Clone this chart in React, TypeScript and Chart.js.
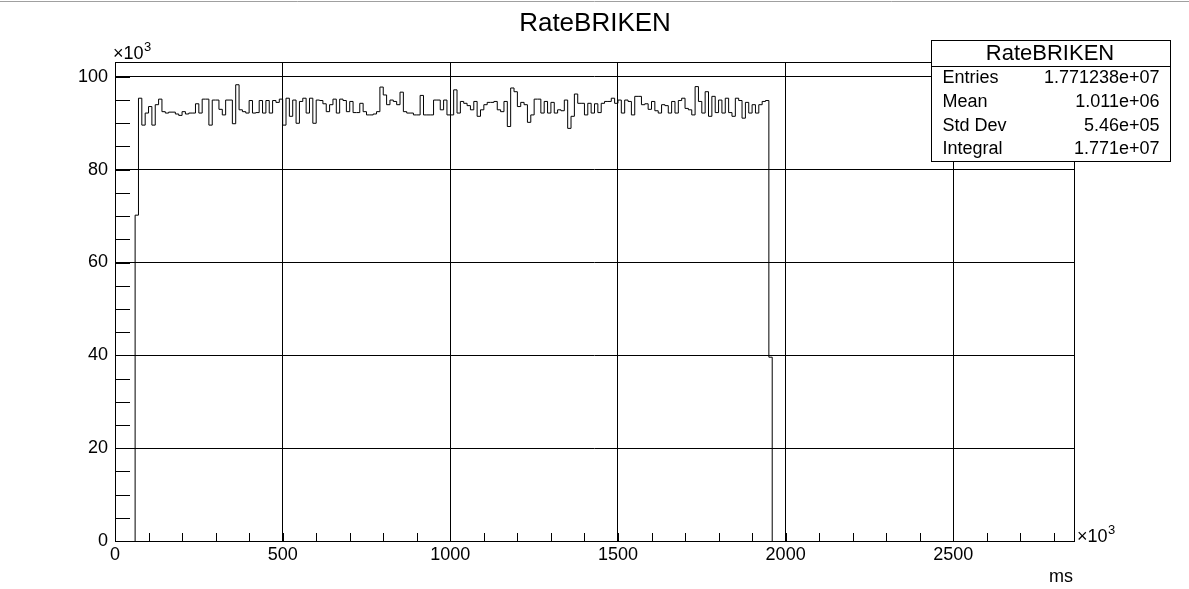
import { useEffect, useRef } from "react";
import { Chart, registerables } from "chart.js";

Chart.register(...registerables);

const FONT = '"Liberation Sans", Arial, Helvetica, sans-serif';

const histTitle = "RateBRIKEN";
const xAxisTitle = "ms";
const binLow = 60; // ×10^3 ms
const binWidth = 10; // ×10^3 ms
// counts per bin, ×10^3
const counts = [
  70.2,
  95.4, 89.6, 92.2, 93.6, 89.6, 94.0, 95.2, 92.5, 92.2, 92.4,
  92.4, 92.0, 91.7, 92.5, 92.0, 92.2, 92.2, 94.2, 92.2, 95.2,
  95.2, 89.6, 95.0, 95.0, 93.0, 91.8, 95.0, 95.0, 89.9, 98.3,
  92.9, 92.5, 92.2, 94.9, 92.2, 92.3, 94.9, 92.2, 94.9, 92.2,
  94.9, 94.5, 95.2, 89.6, 95.4, 91.5, 95.0, 90.0, 94.7, 95.4,
  92.2, 95.4, 90.0, 95.0, 94.9, 94.2, 92.5, 94.0, 95.2, 92.2,
  95.2, 94.9,
  92.5, 94.7, 92.3, 92.3, 94.3, 92.5, 91.8, 91.8, 92.0, 92.5,
  97.8, 96.1, 94.0, 95.0, 94.7, 94.0, 96.7, 92.5, 92.2, 92.2,
  91.8, 91.8, 96.0, 91.8, 91.8, 91.8, 95.0, 95.0, 92.9, 95.0,
  91.8, 91.8, 97.2, 92.2, 94.7, 94.3, 93.8, 92.9, 94.7, 91.5,
  92.9, 94.0, 94.5, 94.5, 94.7, 92.9, 92.5, 94.7, 89.3, 97.6,
  96.8, 93.6, 94.5, 94.0, 90.2, 91.8, 95.2, 95.2, 92.2, 94.7,
  92.2, 94.5, 92.2, 92.9,
  92.7, 95.0, 88.9, 91.5, 96.3, 94.3, 94.3, 91.8, 94.3, 92.2,
  94.2, 92.3, 94.3, 94.7, 94.7, 95.4, 94.3, 95.0, 92.2, 95.0,
  94.7, 91.8, 95.8, 95.8, 94.0, 94.2, 93.0, 94.7, 92.7, 92.2,
  94.0, 93.8, 92.2, 94.7, 92.2, 94.9, 95.4, 93.2, 92.9, 91.8,
  97.9, 94.7, 92.2, 96.8, 91.5, 95.8, 92.3, 95.0, 92.2, 95.4,
  92.3, 91.5, 95.4, 94.9, 91.1, 94.5, 92.2, 94.0, 92.2, 94.0,
  94.7, 94.9,
  39.6,
];

const xMin = 0;
const xMax = 2860;
const yMin = 0;
const yMax = 103.2;
const xTickValues = [0, 500, 1000, 1500, 2000, 2500];
const yTickValues = [0, 20, 40, 60, 80, 100];
const xMinor = 100;
const yMinor = 5;

const statsLabels = ["Entries", "Mean", "Std Dev", "Integral"];
const statsValues = ["1.771238e+07", "1.011e+06", "5.46e+05", "1.771e+07"];

const CW = 1189;
const CH = 589;
const AREA = { left: 115, right: 1074, top: 62, bottom: 541 };

function drawTimes10(ctx: CanvasRenderingContext2D, x: number, baseline: number) {
  ctx.font = `18px ${FONT}`;
  ctx.textAlign = "left";
  ctx.textBaseline = "alphabetic";
  ctx.fillText("\u00d710", x, baseline);
  const w = ctx.measureText("\u00d710").width;
  ctx.font = `13px ${FONT}`;
  ctx.fillText("3", x + w + 0.5, baseline - 8);
}

const rootPlugin = {
  id: "rootDecor",
  afterDraw(chart: any) {
    const ctx: CanvasRenderingContext2D = chart.ctx;
    const { left, right, top, bottom } = chart.chartArea;
    const xs = chart.scales.x;
    const ys = chart.scales.y;
    ctx.save();
    ctx.strokeStyle = "#000";
    ctx.fillStyle = "#000";
    ctx.lineWidth = 1;

    // frame
    ctx.strokeRect(Math.round(left) + 0.5, Math.round(top) + 0.5, Math.round(right - left), Math.round(bottom - top));

    // minor ticks
    ctx.beginPath();
    for (let v = yMin; v <= yMax; v += yMinor) {
      const py = Math.round(ys.getPixelForValue(v)) + 0.5;
      ctx.moveTo(left, py);
      ctx.lineTo(left + 15, py);
    }
    for (let v = xMin; v <= xMax; v += xMinor) {
      const px = Math.round(xs.getPixelForValue(v)) + 0.5;
      ctx.moveTo(px, bottom);
      ctx.lineTo(px, bottom - 8);
    }
    ctx.stroke();

    // exponent labels
    drawTimes10(ctx, 113, 59);
    drawTimes10(ctx, 1077, 542);

    // axis title
    ctx.font = `18px ${FONT}`;
    ctx.textAlign = "right";
    ctx.textBaseline = "alphabetic";
    ctx.fillText(xAxisTitle, 1073, 582);

    // main title
    ctx.font = `26px ${FONT}`;
    ctx.textAlign = "center";
    ctx.textBaseline = "middle";
    ctx.fillText(histTitle, 595, 24);

    // stats box
    const bx = 931.5, by = 40.5, bw = 239, bh = 121;
    ctx.fillStyle = "#fff";
    ctx.fillRect(bx, by, bw, bh);
    ctx.strokeRect(bx, by, bw, bh);
    ctx.beginPath();
    ctx.moveTo(bx, 66.5);
    ctx.lineTo(bx + bw, 66.5);
    ctx.stroke();
    ctx.fillStyle = "#000";
    ctx.font = `22px ${FONT}`;
    ctx.textAlign = "center";
    ctx.textBaseline = "middle";
    ctx.fillText(histTitle, 1050, 54);
    ctx.font = `18px ${FONT}`;
    const rowY = [78, 102, 126, 149];
    statsLabels.forEach((lab, i) => {
      ctx.textAlign = "left";
      ctx.fillText(lab, 942.5, rowY[i]);
      ctx.textAlign = "right";
      ctx.fillText(statsValues[i], 1159.5, rowY[i]);
    });

    // top window border line
    ctx.strokeStyle = "#a0a0a0";
    ctx.beginPath();
    ctx.moveTo(0, 1.5);
    ctx.lineTo(CW, 1.5);
    ctx.stroke();
    ctx.restore();
  },
};

export default function App() {
  const ref = useRef<HTMLCanvasElement>(null);
  useEffect(() => {
    document.body.style.margin = "0";
    const canvas = ref.current;
    if (!canvas) return;
    const pts: { x: number; y: number }[] = [{ x: binLow, y: 0 }];
    counts.forEach((c, i) => pts.push({ x: binLow + (i + 1) * binWidth, y: c }));
    pts.push({ x: binLow + counts.length * binWidth, y: 0 });

    const chart = new Chart(canvas, {
      type: "line",
      data: {
        datasets: [
          {
            data: pts,
            stepped: "after",
            borderColor: "#000",
            borderWidth: 1,
            pointRadius: 0,
            fill: false,
          },
        ],
      },
      options: {
        animation: false,
        responsive: false,
        devicePixelRatio: 1,
        layout: { padding: { left: 0, right: CW - AREA.right, top: AREA.top, bottom: 0 } },
        plugins: {
          legend: { display: false },
          title: { display: false },
          tooltip: { enabled: false },
        },
        scales: {
          x: {
            type: "linear",
            min: xMin,
            max: xMax,
            afterFit: (s: any) => {
              s.height = CH - AREA.bottom;
            },
            afterBuildTicks: (s: any) => {
              s.ticks = xTickValues.map((v) => ({ value: v }));
            },
            ticks: {
              autoSkip: false,
              maxRotation: 0,
              padding: 3,
              color: "#000",
              font: { family: FONT, size: 18 },
              callback: (v: any) => String(v),
            },
            grid: { color: "#000", lineWidth: 1, drawTicks: false },
            border: { display: false },
          },
          y: {
            type: "linear",
            min: yMin,
            max: yMax,
            afterFit: (s: any) => {
              s.width = AREA.left;
            },
            afterBuildTicks: (s: any) => {
              s.ticks = yTickValues.map((v) => ({ value: v }));
            },
            ticks: {
              autoSkip: false,
              padding: 7,
              color: "#000",
              font: { family: FONT, size: 18 },
              callback: (v: any) => String(v),
            },
            grid: { color: "#000", lineWidth: 1, drawTicks: false },
            border: { display: false },
          },
        },
      },
      plugins: [rootPlugin],
    });
    return () => chart.destroy();
  }, []);
  return (
    <div style={{ position: "absolute", left: 0, top: 0, width: CW, height: CH, background: "#fff" }}>
      <canvas ref={ref} width={CW} height={CH} style={{ display: "block", width: CW, height: CH }} />
    </div>
  );
}
